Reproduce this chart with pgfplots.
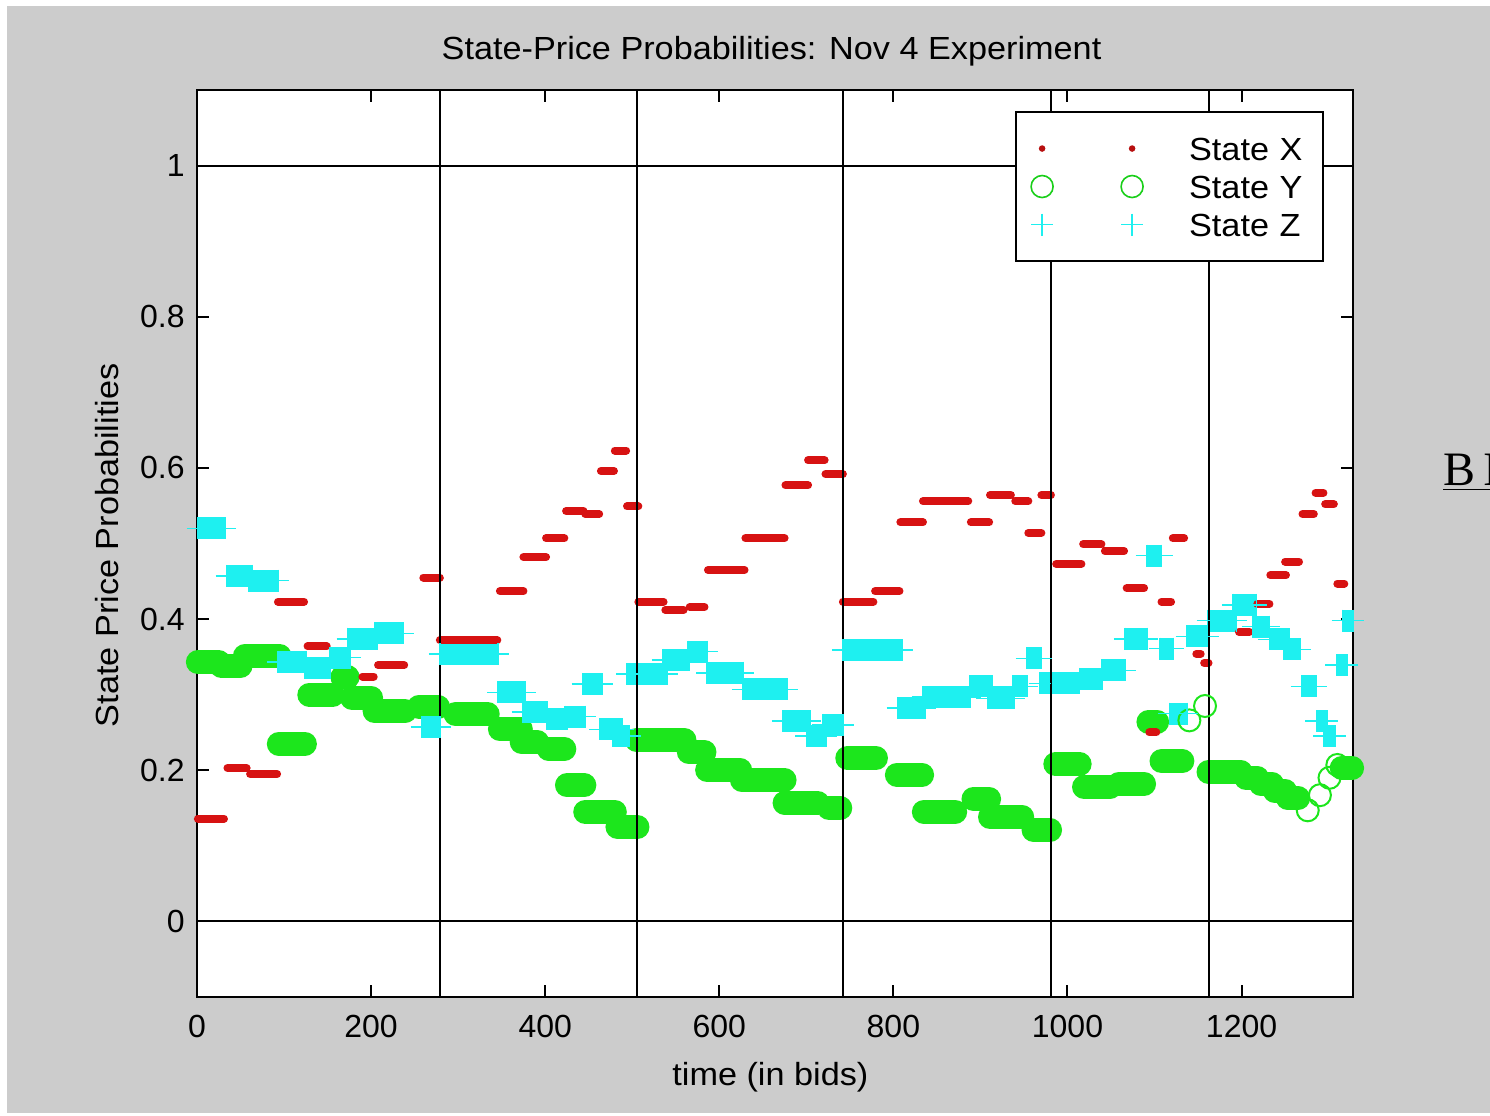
\documentclass[border=0pt]{standalone}
\usepackage{fontspec}
\setmainfont{Liberation Sans}[FakeStretch=1.07]
\newfontfamily\tickfont{Liberation Sans}
\newfontfamily\serifB{Liberation Serif}
\usepackage{pgfplots}
\usepackage{pgfplotstable}
\pgfplotsset{compat=1.18}
\definecolor{mred}{RGB}{215,18,18}
\definecolor{mgreen}{RGB}{28,230,28}
\definecolor{mcyan}{RGB}{30,240,240}
\definecolor{figgray}{RGB}{204,204,204}

% State X runs (start/end of each constant run)
\pgfplotstableread{
x y
1 0.136
31 0.136
nan nan
35 0.203
57 0.203
nan nan
61 0.195
92 0.195
nan nan
93 0.423
123 0.423
nan nan
127 0.364
149 0.364
nan nan
190 0.324
203 0.324
nan nan
208 0.339
238 0.339
nan nan
260 0.455
279 0.455
nan nan
279 0.372
345 0.372
nan nan
348 0.437
375 0.437
nan nan
375 0.482
401 0.482
nan nan
401 0.507
422 0.507
nan nan
424 0.543
444 0.543
nan nan
446 0.539
462 0.539
nan nan
464 0.596
479 0.596
nan nan
480 0.623
493 0.623
nan nan
494 0.549
507 0.549
nan nan
507 0.423
536 0.423
nan nan
538 0.412
559 0.412
nan nan
566 0.416
583 0.416
nan nan
587 0.465
629 0.465
nan nan
630 0.507
675 0.507
nan nan
676 0.577
702 0.577
nan nan
702 0.610
721 0.610
nan nan
722 0.592
742 0.592
nan nan
742 0.423
777 0.423
nan nan
779 0.437
807 0.437
nan nan
808 0.528
834 0.528
nan nan
834 0.556
886 0.556
nan nan
889 0.528
910 0.528
nan nan
911 0.564
935 0.564
nan nan
940 0.556
955 0.556
nan nan
955 0.514
970 0.514
nan nan
970 0.564
981 0.564
nan nan
987 0.473
1016 0.473
nan nan
1018 0.499
1039 0.499
nan nan
1043 0.490
1065 0.490
nan nan
1068 0.441
1088 0.441
nan nan
1094 0.250
1102 0.250
nan nan
1108 0.423
1119 0.423
nan nan
1121 0.507
1134 0.507
nan nan
1148 0.354
1153 0.354
nan nan
1157 0.342
1162 0.342
nan nan
1197 0.383
1209 0.383
nan nan
1218 0.420
1232 0.420
nan nan
1233 0.458
1251 0.458
nan nan
1250 0.476
1266 0.476
nan nan
1270 0.539
1283 0.539
nan nan
1285 0.567
1294 0.567
nan nan
1296 0.552
1306 0.552
nan nan
1310 0.447
1318 0.447
}\redruns

% State Y runs
\pgfplotstableread{
x y
1 0.343
25 0.343
nan nan
28 0.338
50 0.338
nan nan
55 0.351
95 0.351
nan nan
94 0.235
124 0.235
nan nan
129 0.300
156 0.300
nan nan
167 0.323
173 0.323
nan nan
178 0.296
200 0.296
nan nan
204 0.278
239 0.278
nan nan
255 0.284
277 0.284
nan nan
297 0.274
334 0.274
nan nan
348 0.254
372 0.254
nan nan
373 0.237
391 0.237
nan nan
404 0.228
422 0.228
nan nan
425 0.180
445 0.180
nan nan
446 0.145
480 0.145
nan nan
483 0.125
506 0.125
nan nan
505 0.240
560 0.240
nan nan
565 0.224
583 0.224
nan nan
586 0.200
624 0.200
nan nan
626 0.187
675 0.187
nan nan
675 0.157
713 0.157
nan nan
726 0.150
739 0.150
nan nan
747 0.216
780 0.216
nan nan
804 0.194
833 0.194
nan nan
835 0.145
871 0.145
nan nan
892 0.162
910 0.162
nan nan
911 0.138
948 0.138
nan nan
961 0.121
980 0.121
nan nan
986 0.208
1014 0.208
nan nan
1019 0.178
1049 0.178
nan nan
1059 0.182
1088 0.182
nan nan
1093 0.264
1103 0.264
nan nan
1108 0.212
1132 0.212
nan nan
1162 0.198
1199 0.198
nan nan
1205 0.190
1218 0.190
nan nan
1222 0.182
1235 0.182
nan nan
1238 0.173
1250 0.173
nan nan
1253 0.163
1265 0.163
nan nan
1315 0.203
1327 0.203
}\greenruns

\pgfplotstableread{
x y
1140 0.266
1158 0.285
1276 0.147
1290 0.167
1301 0.190
1310 0.207
}\greensingle

% State Z runs
\pgfplotstableread{
x y
1 0.520
32 0.520
nan nan
34 0.457
63 0.457
nan nan
59 0.451
93 0.451
nan nan
93 0.343
126 0.343
nan nan
124 0.335
153 0.335
nan nan
153 0.349
176 0.349
nan nan
173 0.374
207 0.374
nan nan
204 0.381
237 0.381
nan nan
258 0.257
279 0.257
nan nan
279 0.354
346 0.354
nan nan
346 0.303
377 0.303
nan nan
374 0.277
402 0.277
nan nan
402 0.268
425 0.268
nan nan
423 0.271
446 0.271
nan nan
443 0.314
465 0.314
nan nan
463 0.254
489 0.254
nan nan
478 0.245
497 0.245
nan nan
494 0.327
540 0.327
nan nan
535 0.346
566 0.346
nan nan
564 0.357
586 0.357
nan nan
586 0.329
627 0.329
nan nan
627 0.307
678 0.307
nan nan
673 0.265
704 0.265
nan nan
700 0.245
723 0.245
nan nan
719 0.260
742 0.260
nan nan
742 0.359
810 0.359
nan nan
805 0.282
836 0.282
nan nan
834 0.297
888 0.297
nan nan
888 0.311
913 0.311
nan nan
908 0.295
939 0.295
nan nan
937 0.311
954 0.311
nan nan
953 0.348
970 0.348
nan nan
968 0.315
1014 0.315
nan nan
1014 0.321
1040 0.321
nan nan
1039 0.332
1066 0.332
nan nan
1066 0.374
1091 0.374
nan nan
1091 0.484
1108 0.484
nan nan
1106 0.361
1121 0.361
nan nan
1117 0.275
1137 0.275
nan nan
1137 0.377
1161 0.377
nan nan
1161 0.398
1194 0.398
nan nan
1190 0.419
1217 0.419
nan nan
1213 0.390
1232 0.390
nan nan
1232 0.373
1255 0.373
nan nan
1249 0.360
1267 0.360
nan nan
1269 0.311
1286 0.311
nan nan
1286 0.265
1298 0.265
nan nan
1295 0.245
1307 0.245
nan nan
1309 0.339
1321 0.339
nan nan
1316 0.398
1328 0.398
}\cyanruns

\pgfplotsset{mylegimg/.style={legend image code/.code={%
  \draw[##1] plot coordinates {(0pt,0pt) (45pt,0pt)};
  \path (-5.5pt,0pt) (73pt,0pt);}}}

\begin{document}
\begin{tikzpicture}
\useasboundingbox (0,0) rectangle (745pt,557.5pt);
\fill[white] (0,0) rectangle (745pt,557.5pt);
\fill[figgray] (3.5pt,1pt) rectangle (745pt,554.5pt);
\node[anchor=base west, inner sep=0pt, font=\serifB\fontsize{24}{28}\selectfont] at (721.5pt,314.5pt) {\underline{B\,I}};
\begin{axis}[
  at={(98.5pt,59pt)}, anchor=south west,
  width=578pt, height=453.5pt, scale only axis,
  xmin=0, xmax=1328, ymin=-0.1, ymax=1.1,
  clip=false,
  axis background/.style={fill=white},
  axis line style={line width=1pt},
  tick style={black, line width=1pt},
  major tick length=6pt,
  tick align=inside,
  xtick={0,200,400,600,800,1000,1200},
  xticklabels={0,200,400,600,800,1000,1200},
  ytick={0,0.2,0.4,0.6,0.8,1},
  yticklabels={0,0.2,0.4,0.6,0.8,1},
  /pgf/number format/assume math mode=true,
  xticklabel style={font=\tickfont\fontsize{16}{19}\selectfont, inner sep=0pt, yshift=-9pt},
  yticklabel style={font=\tickfont\fontsize{16}{19}\selectfont, inner sep=0pt, xshift=-6pt},
  title={State-Price Probabilities: Nov 4 Experiment},
  title style={at={(axis description cs:0.497,1.0463)}, anchor=center, yshift=-7.5pt, font=\fontsize{16}{19}\selectfont},
  xlabel={time (in bids)},
  xlabel style={at={(axis description cs:0.496,-0.0882)}, anchor=center, font=\fontsize{16}{19}\selectfont},
  ylabel={State Price Probabilities},
  ylabel style={at={(axis description cs:-0.0779,0.498)}, anchor=center, font=\fontsize{16}{19}\selectfont},
  legend style={at={(0.975,0.9768)}, anchor=north east, draw=black, line width=1pt, fill=white,
    inner xsep=7pt, inner ysep=12.5pt, row sep=7.5pt,
    font=\fontsize{16}{19}\selectfont,
    nodes={inner sep=0pt, text height=11.5pt, text depth=0pt, text width=60pt}},
  legend cell align=left,
]
\addlegendimage{only marks, mark=*, mark size=1.1pt, mred!85!black, mylegimg}
\addlegendentry{State X}
\addlegendimage{only marks, mark=o, mark size=5.5pt, mgreen!90!black, line width=0.8pt, mylegimg}
\addlegendentry{State Y}
\addlegendimage{only marks, mark=+, mark size=5.5pt, mcyan, line width=0.8pt, mylegimg}
\addlegendentry{State Z}

% State Y
\addplot[mgreen, line width=12pt, line cap=round, unbounded coords=jump, mark=none, forget plot] table[x=x,y=y] {\greenruns};
\addplot[mgreen, only marks, mark=o, mark size=5.5pt, line width=1pt, forget plot] table[x=x,y=y] {\greensingle};
% State Z
\addplot[mcyan, line width=11pt, line cap=butt, unbounded coords=jump, mark=none, forget plot] table[x=x,y=y] {\cyanruns};
\addplot[mcyan, only marks, mark=+, mark size=5.5pt, line width=0.8pt, unbounded coords=discard, forget plot] table[x=x,y=y] {\cyanruns};
% State X
\addplot[mred, line width=4pt, line cap=round, unbounded coords=jump, mark=none, forget plot] table[x=x,y=y] {\redruns};

% reference lines
\addplot[black, line width=1pt, forget plot] coordinates {(0,0) (1328,0)};
\addplot[black, line width=1pt, forget plot] coordinates {(0,1) (1328,1)};
\addplot[black, line width=1pt, forget plot] coordinates {(279,-0.1) (279,1.1)};
\addplot[black, line width=1pt, forget plot] coordinates {(506,-0.1) (506,1.1)};
\addplot[black, line width=1pt, forget plot] coordinates {(742,-0.1) (742,1.1)};
\addplot[black, line width=1pt, forget plot] coordinates {(981,-0.1) (981,1.1)};
\addplot[black, line width=1pt, forget plot] coordinates {(1162,-0.1) (1162,1.1)};
\end{axis}
\end{tikzpicture}
\end{document}
